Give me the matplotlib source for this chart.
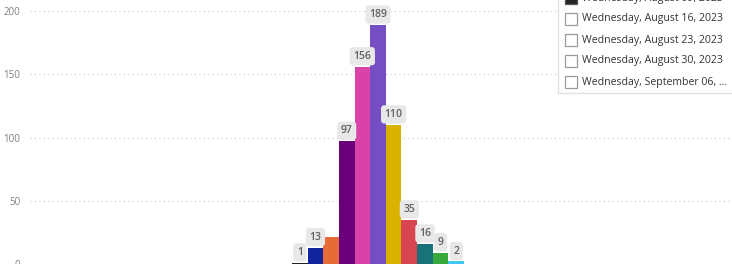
import matplotlib.pyplot as plt
from matplotlib.patches import Rectangle

# data
values = [1, 13, 21, 97, 156, 189, 110, 35, 16, 9, 2]
labels = ['1', '13', None, '97', '156', '189', '110', '35', '16', '9', '2']
colors = ['#222222', '#12239E', '#E66C37', '#6B007B', '#D942A8', '#744EC2',
          '#D9B300', '#D64550', '#197278', '#37A83C', '#3FC6F2']
legend_items = ['Wednesday, August 09, 2023', 'Wednesday, August 16, 2023',
                'Wednesday, August 23, 2023', 'Wednesday, August 30, 2023',
                'Wednesday, September 06, ...']
yticks = [0, 50, 100, 150, 200]

W, H = 732, 264
plt.rcParams['font.family'] = ['Open Sans', 'DejaVu Sans']

fig = plt.figure(figsize=(W / 100, H / 100), dpi=100)
ax = fig.add_axes([30 / W, 0, 1 - 30 / W, 1])

x = list(range(len(values)))
ax.bar(x, values, width=1.0, color=colors, zorder=2)

bar_w = 15.64
ax.set_xlim(-0.5 - (292 - 30) / bar_w, -0.5 + (W - 292) / bar_w)
ax.set_ylim(0, 200 * 264 / 253)

for xi, v, lab in zip(x, values, labels):
    if lab is None:
        continue
    ax.annotate(lab, (xi, v), xytext=(0, 7.5), textcoords='offset points',
                ha='center', va='center', fontsize=7.5, color='#606060',
                fontweight='semibold', zorder=3,
                bbox=dict(boxstyle='round,pad=0.35,rounding_size=0.3',
                          fc='#e8e8e8', ec='none'))

ax.set_yticks(yticks)
ax.set_yticklabels([str(t) for t in yticks], fontsize=7, color='#808080')
ax.tick_params(axis='y', length=0, pad=7)
ax.set_xticks([])
ax.grid(axis='y', color='#c8c8c8', linestyle=(0, (1, 3)), linewidth=0.8, zorder=0)
for s in ax.spines.values():
    s.set_visible(False)


def fx(px):
    return px / W


def fy(py):
    return 1 - py / H


# slicer-style legend box in the top right
fig.add_artist(Rectangle((fx(558), fy(93)), fx(W - 558 + 5), 93 / H + 0.05,
                         transform=fig.transFigure, fc='white', ec='#e3e3e3',
                         lw=1, zorder=5))
for i, item in enumerate(legend_items):
    cy = -2 + 21 * i
    filled = i == 0
    fig.add_artist(Rectangle((fx(565), fy(cy + 6)), fx(12), 12 / H,
                             transform=fig.transFigure,
                             fc='#252525' if filled else 'white',
                             ec='#555555' if filled else '#9a9a9a',
                             lw=0.9, zorder=6))
    fig.text(fx(582), fy(cy), item, fontsize=7.6, color='#333333',
             va='center', ha='left', zorder=7)

fig.savefig('out.png', dpi=100)
